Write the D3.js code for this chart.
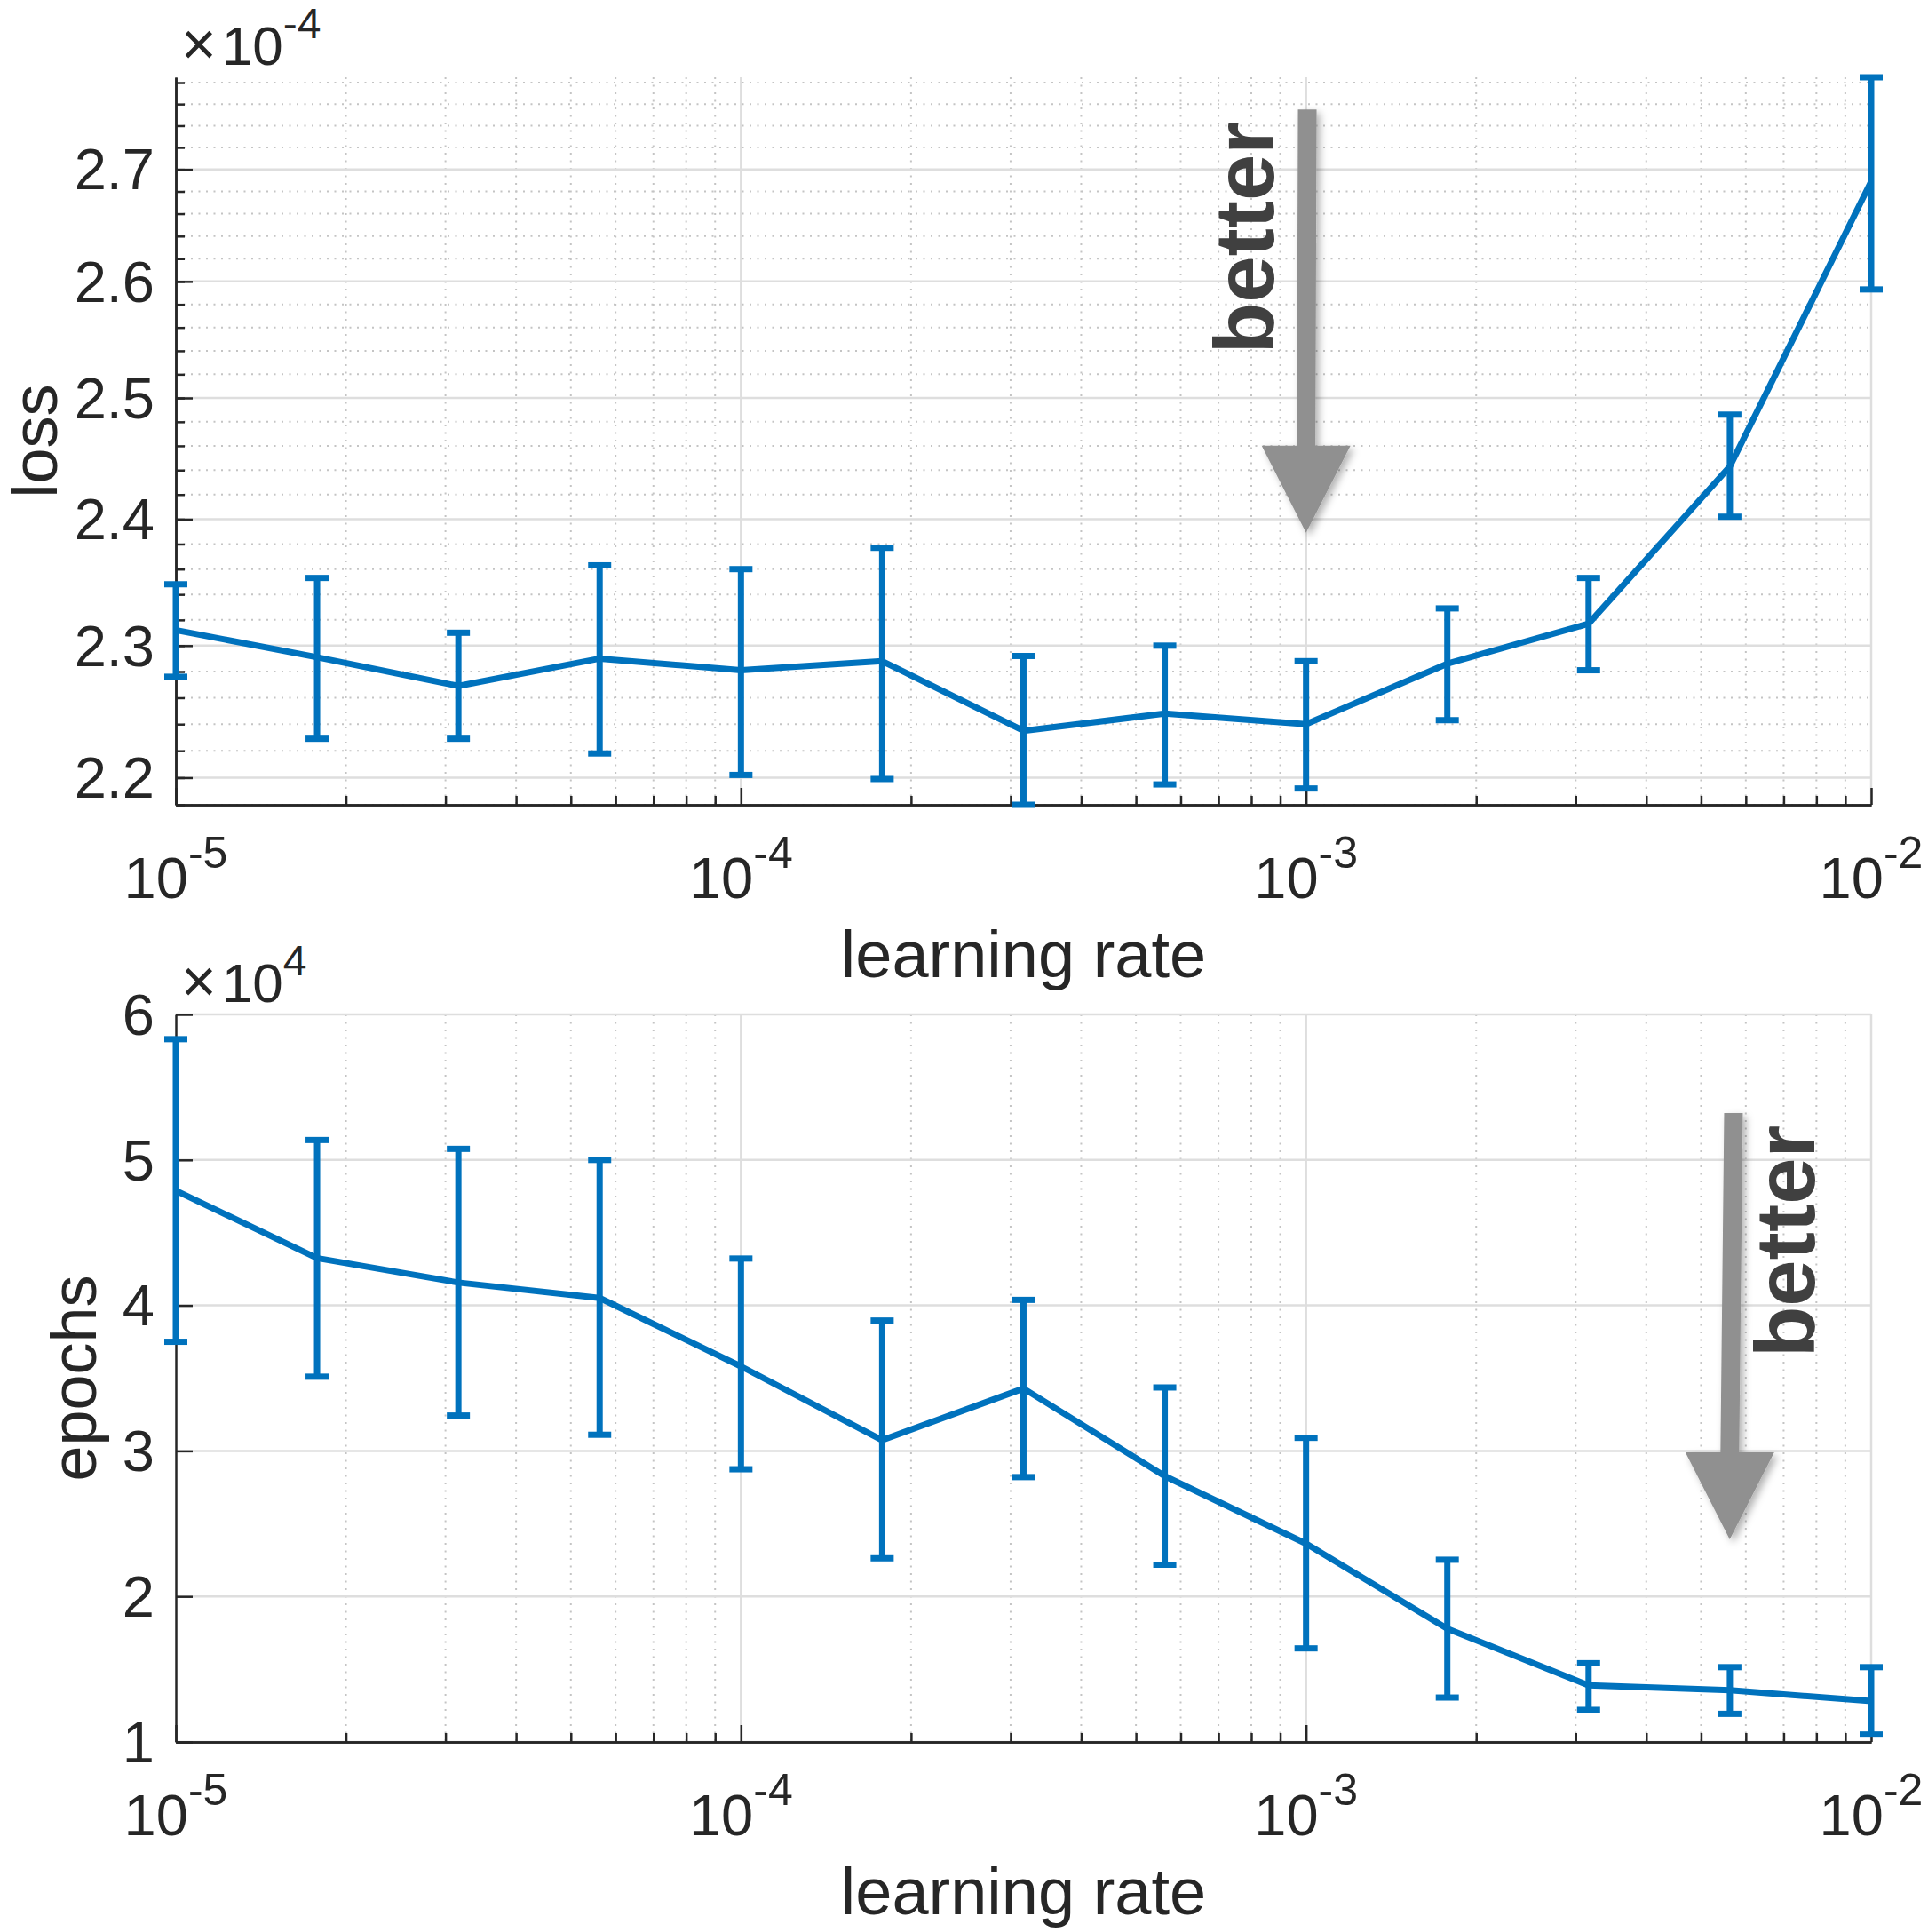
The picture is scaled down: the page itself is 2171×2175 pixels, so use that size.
<!DOCTYPE html>
<html>
<head>
  <meta charset="utf-8">
  <style type="text/css">
    body { margin: 0; background: #fff; }
    svg text { font-family: "Liberation Sans", Arial, Helvetica, sans-serif; fill: #262626; }
    .axis path, .axis line { stroke: #262626; stroke-width: 2.5; }
  </style>
  <script src="https://d3js.org/d3.v7.min.js"></script>
</head>
<body>
  <div id="chart"></div>
  <script type="text/javascript">
    "use strict";

    // learning rates (x), shared by both panels
    var lr = [1e-5, 1.778e-5, 3.162e-5, 5.623e-5, 1e-4, 1.778e-4, 3.162e-4,
              5.623e-4, 1e-3, 1.778e-3, 3.162e-3, 5.623e-3, 1e-2];

    // loss, in units of 1e-4
    var lossMean = [2.312, 2.291, 2.269, 2.290, 2.281, 2.288, 2.235, 2.248, 2.240, 2.286, 2.317, 2.443, 2.689];
    var lossLow  = [2.276, 2.229, 2.229, 2.218, 2.202, 2.199, 2.180, 2.195, 2.192, 2.243, 2.281, 2.402, 2.593];
    var lossHigh = [2.348, 2.353, 2.310, 2.363, 2.360, 2.377, 2.292, 2.300, 2.288, 2.329, 2.353, 2.486, 2.785];

    // epochs, in units of 1e4
    var epochMean = [4.789, 4.325, 4.157, 4.051, 3.581, 3.074, 3.429, 2.827, 2.363, 1.778, 1.389, 1.355, 1.281];
    var epochLow  = [3.750, 3.510, 3.243, 3.111, 2.874, 2.262, 2.820, 2.218, 1.643, 1.305, 1.220, 1.193, 1.051];
    var epochHigh = [5.830, 5.137, 5.076, 5.000, 4.322, 3.896, 4.038, 3.436, 3.090, 2.252, 1.541, 1.514, 1.514];

    // tick labels
    var xMajor = [1e-5, 1e-4, 1e-3, 1e-2];
    var xMajorExp = ["-5", "-4", "-3", "-2"];
    var lossTicks = [2.2, 2.3, 2.4, 2.5, 2.6, 2.7];
    var epochTicks = [1, 2, 3, 4, 5, 6];

    // "better" arrows: start, tip and text anchor in data units
    var arrowFrom = [[1.005e-3, 2.755], [5.706e-3, 5.322]];
    var arrowTo   = [[1e-3, 2.389], [5.62e-3, 2.392]];
    var arrowText = [[8.756e-4, 2.6385], [7.93e-3, 4.44]];

    var W = 2171, H = 2175;
    var left = 198, plotW = 1909, plotH = 819;

    var svg = d3.select("#chart").append("svg")
      .attr("width", W).attr("height", H);

    var defs = svg.append("defs");
    defs.append("filter").attr("id", "shadow")
        .attr("x", "-50%").attr("y", "-10%").attr("width", "200%").attr("height", "130%")
      .append("feDropShadow")
        .attr("dx", 4).attr("dy", 4).attr("stdDeviation", 4)
        .attr("flood-color", "#000").attr("flood-opacity", 0.3);

    var xMinor = [];
    [1e-5, 1e-4, 1e-3].forEach(function(d) {
      for (var m = 2; m <= 9; m++) xMinor.push(d * m);
    });

    function panel(cfg) {
      var g = svg.append("g").attr("transform", "translate(" + left + "," + cfg.top + ")");

      var x = d3.scaleLog().domain([1e-5, 1e-2]).range([0, plotW]);
      var y = cfg.y.range([plotH, 0]);

      // grid
      var grid = g.append("g");
      grid.selectAll(".xminor").data(xMinor).enter().append("line")
        .attr("x1", x).attr("x2", x).attr("y1", 0).attr("y2", plotH)
        .attr("stroke", "#c4c4c4").attr("stroke-width", 2).attr("stroke-dasharray", "2,6.5");
      grid.selectAll(".yminor").data(cfg.yMinorGrid).enter().append("line")
        .attr("x1", 0).attr("x2", plotW).attr("y1", y).attr("y2", y)
        .attr("stroke", "#c4c4c4").attr("stroke-width", 2).attr("stroke-dasharray", "2,6.5");
      grid.selectAll(".xmajor").data(xMajor.slice(1)).enter().append("line")
        .attr("x1", x).attr("x2", x).attr("y1", 0).attr("y2", plotH)
        .attr("stroke", "#dedede").attr("stroke-width", 2.5);
      grid.selectAll(".ymajor").data(cfg.yTicks).enter().append("line")
        .attr("x1", 0).attr("x2", plotW).attr("y1", y).attr("y2", y)
        .attr("stroke", "#dedede").attr("stroke-width", 2.5);

      // axes, ticks pointing inward
      g.append("g").attr("class", "axis").attr("transform", "translate(0," + plotH + ")")
        .call(d3.axisBottom(x).tickValues(xMinor).tickSize(-10).tickSizeOuter(0).tickFormat(""));
      g.append("g").attr("class", "axis").attr("transform", "translate(0," + plotH + ")")
        .call(d3.axisBottom(x).tickValues(xMajor).tickSize(-19).tickSizeOuter(0).tickFormat(""));
      if (cfg.yMinor.length) {
        g.append("g").attr("class", "axis")
          .call(d3.axisLeft(y).tickValues(cfg.yMinor).tickSize(-10).tickSizeOuter(0).tickFormat(""));
      }
      g.append("g").attr("class", "axis")
        .call(d3.axisLeft(y).tickValues(cfg.yTicks).tickSize(-19).tickSizeOuter(0).tickFormat(""));

      // x tick labels 10^n
      var xl = g.selectAll(".xlab").data(xMajor).enter().append("text")
        .attr("x", x).attr("y", plotH + 105).attr("text-anchor", "middle");
      xl.append("tspan").style("font-size", "65px").text("10");
      xl.append("tspan").style("font-size", "50px").attr("dy", -34)
        .text(function(d, i) { return xMajorExp[i]; });

      // y tick labels
      g.selectAll(".ylab").data(cfg.yTicks).enter().append("text")
        .attr("x", -24).attr("y", y).attr("dy", "0.35em").attr("text-anchor", "end")
        .style("font-size", "65px").text(cfg.fmt);

      // exponent multiplier
      var ex = g.append("text").attr("x", 6).attr("y", -14);
      ex.append("tspan").style("font-size", "68px").style("font-weight", "300").text("\u00d7");
      ex.append("tspan").style("font-size", "62px").attr("dx", 6).text("10");
      ex.append("tspan").style("font-size", "48px").attr("dy", -30).text(cfg.exp);

      // axis labels
      g.append("text").attr("x", plotW / 2).attr("y", plotH + 194)
        .attr("text-anchor", "middle").style("font-size", "74px").text("learning rate");
      g.append("text")
        .attr("transform", "translate(" + cfg.ylabX + "," + (plotH / 2) + ") rotate(-90)")
        .attr("text-anchor", "middle").style("font-size", "72px").text(cfg.ylabel);

      // data line + error bars
      var blue = "#0072BD";
      var line = d3.line().x(function(d, i) { return x(lr[i]); }).y(function(d) { return y(d); });
      g.append("path").datum(cfg.mean).attr("d", line)
        .attr("fill", "none").attr("stroke", blue).attr("stroke-width", 7)
        .attr("stroke-linejoin", "round");

      var eb = g.append("g").attr("stroke", blue).attr("stroke-width", 7);
      eb.selectAll(".bar").data(lr).enter().append("line")
        .attr("x1", x).attr("x2", x)
        .attr("y1", function(d, i) { return y(cfg.low[i]); })
        .attr("y2", function(d, i) { return y(cfg.high[i]); });
      [cfg.low, cfg.high].forEach(function(arr) {
        eb.selectAll(null).data(lr).enter().append("line")
          .attr("x1", function(d) { return x(d) - 13; })
          .attr("x2", function(d) { return x(d) + 13; })
          .attr("y1", function(d, i) { return y(arr[i]); })
          .attr("y2", function(d, i) { return y(arr[i]); });
      });

      // "better" arrow
      var a0 = arrowFrom[cfg.idx], a1 = arrowTo[cfg.idx], at = arrowText[cfg.idx];
      var xs = x(a0[0]), ys = y(a0[1]), xt = x(a1[0]), yt = y(a1[1]);
      var yb = yt - 98, xb = xt + (xs - xt) * 0.02;
      var p = [[xs - 10.5, ys], [xs + 10.5, ys], [xb + 10.5, yb], [xb + 50, yb],
               [xt, yt], [xb - 50, yb], [xb - 10.5, yb]];
      g.append("path").attr("d", "M" + p.join("L") + "Z")
        .attr("fill", "#909090").attr("filter", "url(#shadow)");
      g.append("text")
        .attr("transform", "translate(" + x(at[0]) + "," + y(at[1]) + ") rotate(-90)")
        .attr("text-anchor", "middle").style("font-size", "94px").style("font-weight", "bold")
        .style("fill", "#404040").text("better");
    }

    panel({
      idx: 0, top: 87,
      y: d3.scaleLog().domain([2.18, 2.785]),
      yTicks: lossTicks,
      yMinor: d3.range(218, 280, 2).map(function(v) { return v / 100; }),
      yMinorGrid: d3.range(218, 280, 2).filter(function(v) { return v % 10 !== 0; })
                    .map(function(v) { return v / 100; }),
      fmt: d3.format(".1f"), exp: "-4", ylabel: "loss", ylabX: -134,
      mean: lossMean, low: lossLow, high: lossHigh
    });

    panel({
      idx: 1, top: 1142,
      y: d3.scaleLinear().domain([1, 6]),
      yTicks: epochTicks, yMinor: [], yMinorGrid: [],
      fmt: d3.format("d"), exp: "4", ylabel: "epochs", ylabX: -90,
      mean: epochMean, low: epochLow, high: epochHigh
    });
  </script>
</body>
</html>
